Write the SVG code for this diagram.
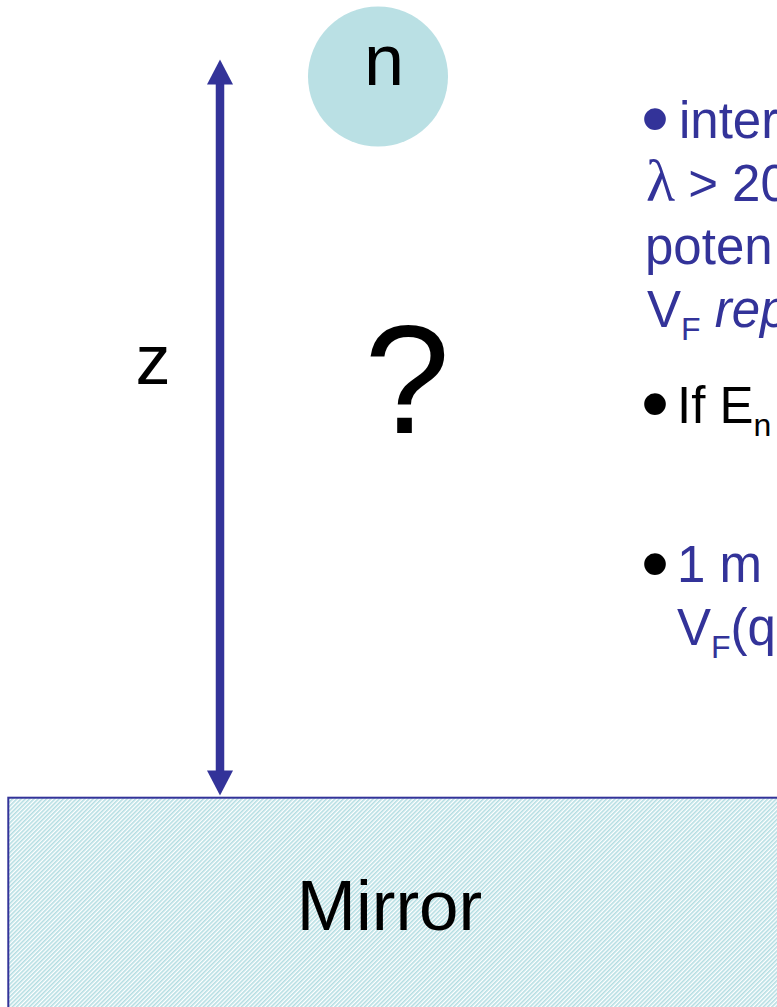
<svg xmlns="http://www.w3.org/2000/svg" width="777" height="1007" viewBox="0 0 777 1007">
<style>
  .sans { font-family: "Liberation Sans", Arial, sans-serif; }
  .blue { fill: #333399; }
  .black { fill: #000000; }
  .body { font-size: 51px; }
  .sub { font-size: 32px; }
  .bullet { font-size: 80px; }
</style>
<defs>
  <pattern id="hatch" patternUnits="userSpaceOnUse" width="3" height="3" patternTransform="rotate(45)">
    <rect x="0" y="0" width="3" height="3" fill="#ffffff"/>
    <rect x="0" y="0" width="1.6" height="3" fill="#b3dde2"/>
  </pattern>
  <marker id="head" markerUnits="userSpaceOnUse" markerWidth="26" markerHeight="26" viewBox="0 0 25 26" refX="0.5" refY="13" orient="auto-start-reverse">
    <path d="M0,0 L25,13 L0,26 z" fill="#333399"/>
  </marker>
</defs>

<g id="mirror">
  <rect x="8.3" y="797.7" width="800" height="260" fill="url(#hatch)" stroke="#333399" stroke-width="2"/>
  <text class="sans black" x="389.5" y="930" font-size="71" text-anchor="middle">Mirror</text>
</g>

<g id="neutron">
  <circle cx="378" cy="76.5" r="70" fill="#bae0e4"/>
  <text class="sans black" x="384" y="85" font-size="72" text-anchor="middle">n</text>
</g>

<g id="connectors">
  <line x1="220" y1="84" x2="220" y2="771" stroke="#333399" stroke-width="8.5" marker-start="url(#head)" marker-end="url(#head)"/>
</g>

<g id="z-label">
  <text class="sans black" x="153" y="384" font-size="70" text-anchor="middle">z</text>
</g>

<g id="question">
  <text class="sans black" x="407" y="433" font-size="154" text-anchor="middle">?</text>
</g>

<g id="notes">
  <text class="sans blue bullet" x="641" y="146">•</text>
  <text class="sans blue body" x="679" y="138">inter</text>
  <text class="blue body" x="646" y="201"><tspan font-family="Liberation Serif, serif" font-size="60">λ</tspan><tspan class="sans" x="674"> &gt; 20</tspan></text>
  <text class="sans blue body" x="645" y="264">poten</text>
  <text class="sans blue body" x="647" y="327">V<tspan class="sub" dy="13">F</tspan><tspan dy="-13"> </tspan><tspan font-style="italic">rep</tspan></text>

  <text class="sans black bullet" x="641" y="431">•</text>
  <text class="sans black body" x="677" y="423">If E<tspan class="sub" dy="13">n</tspan></text>

  <text class="sans black bullet" x="641" y="591">•</text>
  <text class="sans blue body" x="677" y="582">1 m</text>
  <text class="sans blue body" x="677" y="645">V<tspan class="sub" dy="13">F</tspan><tspan dy="-13">(q</tspan></text>
</g>
</svg>
